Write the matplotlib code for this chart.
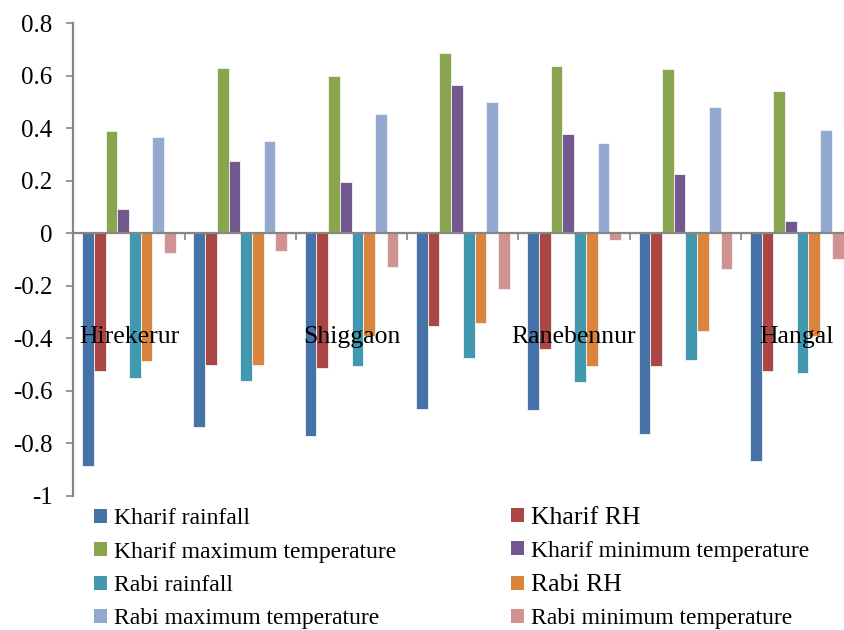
import matplotlib
matplotlib.use("Agg")
import matplotlib.pyplot as plt
import numpy as np
from matplotlib.patches import Patch

plt.rcParams['font.family'] = ['Liberation Serif', 'DejaVu Serif']
plt.rcParams['axes.unicode_minus'] = False

categories = ["Hirekerur", "", "Shiggaon", "", "Ranebennur", "", "Hangal"]

series_names = [
    "Kharif rainfall", "Kharif RH",
    "Kharif maximum temperature", "Kharif minimum temperature",
    "Rabi rainfall", "Rabi RH",
    "Rabi maximum temperature", "Rabi minimum temperature",
]

kharif_rainfall = [-0.886, -0.739, -0.771, -0.670, -0.674, -0.763, -0.867]
kharif_rh       = [-0.526, -0.502, -0.512, -0.353, -0.441, -0.505, -0.526]
kharif_max_temp = [0.390, 0.630, 0.601, 0.685, 0.639, 0.626, 0.542]
kharif_min_temp = [0.094, 0.275, 0.195, 0.563, 0.378, 0.225, 0.045]
rabi_rainfall   = [-0.550, -0.564, -0.507, -0.475, -0.568, -0.483, -0.531]
rabi_rh         = [-0.485, -0.503, -0.390, -0.342, -0.505, -0.372, -0.390]
rabi_max_temp   = [0.367, 0.352, 0.456, 0.500, 0.342, 0.480, 0.392]
rabi_min_temp   = [-0.075, -0.067, -0.128, -0.212, -0.027, -0.135, -0.098]

series_values = [kharif_rainfall, kharif_rh, kharif_max_temp, kharif_min_temp,
                 rabi_rainfall, rabi_rh, rabi_max_temp, rabi_min_temp]

colors = ["#4572A7", "#AA4643", "#89A54E", "#71588F",
          "#4198AF", "#DB843D", "#93A9CF", "#D19392"]

y_ticks = [0.8, 0.6, 0.4, 0.2, 0, -0.2, -0.4, -0.6, -0.8, -1]
y_tick_labels = ["0.8", "0.6", "0.4", "0.2", "0", "-0.2", "-0.4", "-0.6", "-0.8", "-1"]

fig = plt.figure(figsize=(8.44, 6.30), dpi=100)
ax = fig.add_axes([73.3 / 844, (630 - 495.7) / 630, 779 / 844, 472.4 / 630])

n_series = len(series_values)
x = np.arange(len(categories))
w = 1 / 9.5
for i, (vals, c, name) in enumerate(zip(series_values, colors, series_names)):
    ax.bar(x + (i - (n_series - 1) / 2) * w, vals, width=w, color=c,
           edgecolor="#f4f4f4", linewidth=0.6, label=name, zorder=1)

ax.set_xlim(-0.5, len(categories) - 0.5)
ax.set_ylim(-1, 0.8)

axis_color = "#868686"
for s in ["top", "right"]:
    ax.spines[s].set_visible(False)
ax.spines["bottom"].set_position(("data", 0))
ax.spines["bottom"].set_color(axis_color)
ax.spines["bottom"].set_linewidth(1.6)
ax.spines["bottom"].set_zorder(5)
ax.spines["left"].set_color(axis_color)
ax.spines["left"].set_linewidth(1.6)

ax.set_yticks(y_ticks)
ax.set_yticklabels(y_tick_labels, fontsize=18)
ax.tick_params(axis="y", direction="out", length=5, width=1.2, color=axis_color, pad=10)

ax.set_xticks(x)
ax.set_xticklabels(categories, fontsize=18.5)
ax.set_xticks(np.arange(-0.5, len(categories)), minor=True)
ax.tick_params(axis="x", which="major", length=0, pad=67)
ax.tick_params(axis="x", which="minor", direction="out", length=5, width=1.2, color=axis_color)
ax.xaxis.set_zorder(6)

handles = [Patch(facecolor=c, edgecolor="none") for c in colors]
fs = 17
leg_kw = dict(frameon=False, fontsize=fs, handlelength=0.54, handleheight=0.54,
              handletextpad=0.31, labelspacing=0.52, borderpad=0, borderaxespad=0,
              loc="upper left")
left_idx = [0, 2, 4, 6]
right_idx = [1, 3, 5, 7]
leg1 = fig.legend([handles[i] for i in left_idx], [series_names[i] for i in left_idx],
                  bbox_to_anchor=(94 / 844, 1 - 508.5 / 630), **leg_kw)
leg2 = fig.legend([handles[i] for i in right_idx], [series_names[i] for i in right_idx],
                  bbox_to_anchor=(511 / 844, 1 - 506.5 / 630), **leg_kw)
for t in leg2.get_texts():
    if t.get_text().endswith("RH"):
        t.set_fontsize(18.5)

fig.savefig("out.png", dpi=100)
